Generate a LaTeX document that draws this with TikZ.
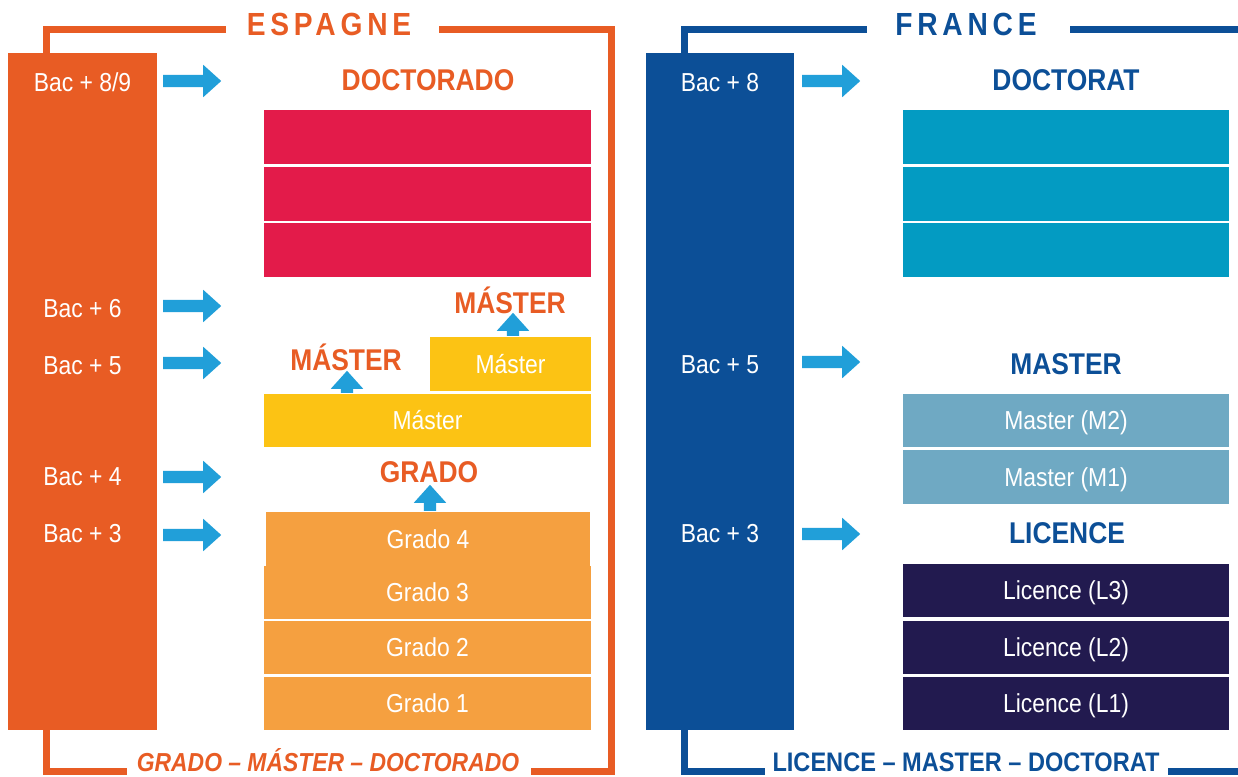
\documentclass[tikz,border=0pt]{standalone}
\usepackage{fontspec}
\setmainfont{Liberation Sans}[FakeStretch=0.88]
\usetikzlibrary{shapes.arrows}
\definecolor{esorange}{RGB}{232,92,36}
\definecolor{esred}{RGB}{227,27,74}
\definecolor{esyellow}{RGB}{252,195,20}
\definecolor{esgrado}{RGB}{245,160,64}
\definecolor{arrowblue}{RGB}{33,159,217}
\definecolor{frblue}{RGB}{12,79,151}
\definecolor{frteal}{RGB}{3,155,194}
\definecolor{frmaster}{RGB}{111,169,195}
\definecolor{frnavy}{RGB}{34,26,79}
\begin{document}
\begin{tikzpicture}[x=1pt,y=-1pt,
  col/.style={rectangle,inner sep=0pt,minimum width=149pt,minimum height=677pt},
  band/.style={rectangle,inner sep=0pt,minimum width=327pt,minimum height=53.5pt,text=white,
    font=\fontsize{26}{26}\selectfont,text height=18.6pt,text depth=0pt},
  bac/.style={anchor=base,text=white,font=\fontsize{26}{26}\selectfont},
  titre/.style={anchor=base,font=\fontsize{30}{30}\selectfont\bfseries},
  pays/.style={anchor=base,font=\fontsize{32}{32}\selectfont\bfseries\addfontfeature{LetterSpace=15}},
  bas/.style={anchor=base,inner sep=0pt,text depth=0pt,font=\fontsize{26.8}{26.8}\selectfont\bfseries},
  basit/.style={anchor=base,inner sep=0pt,text depth=0pt,font=\fontsize{26}{26}\selectfont\bfseries\itshape},
  harrow/.style={single arrow,fill=arrowblue,inner xsep=0pt,inner ysep=6pt,
    single arrow head extend=10pt,single arrow tip angle=84,minimum height=58pt,anchor=tail},
  varrow/.style={harrow,inner xsep=6pt,inner ysep=0pt,shape border rotate=90},
  esframe/.style={draw=esorange,line width=7pt},
  frframe/.style={draw=frblue,line width=7pt}]
\fill[white] (0,0) rectangle (1238,776);
\useasboundingbox (0,0) rectangle (1238,776);

% Espagne
\draw[esframe] (46,53) |- (226,29.5);
\draw[esframe] (439,29.5) -| (611,771) -- (531,771);
\draw[esframe] (46,730) |- (127,771);
\node[pays,text=esorange] (espagne) at (329,36) {ESPAGNE};
\node[basit,text=esorange] (esbas) at (328,771) {GRADO – MÁSTER – DOCTORADO};
\node[col,fill=esorange] (escol) at (82.5,391.5) {};
\node[bac] (es89) at (82.5,91) {Bac + 8/9};
\node[bac] (es6) at (82.5,317) {Bac + 6};
\node[bac] (es5) at (82.5,374) {Bac + 5};
\node[bac] (es4) at (82.5,485) {Bac + 4};
\node[bac] (es3) at (82.5,542) {Bac + 3};
\node[harrow] (esa89) at (163,81) {};
\node[harrow] (esa6) at (163,306) {};
\node[harrow] (esa5) at (163,363) {};
\node[harrow] (esa4) at (163,477) {};
\node[harrow] (esa3) at (163,535) {};
\node[titre,text=esorange] (doctorado) at (428,90) {DOCTORADO};
\node[band,fill=esred] (doc3) at (427.5,137) {};
\node[band,fill=esred] (doc2) at (427.5,194) {};
\node[band,fill=esred] (doc1) at (427.5,250) {};
\node[titre,text=esorange] (master2) at (510,313) {MÁSTER};
\node[varrow,minimum height=23pt] (upm2) at (513,336) {};
\node[band,fill=esyellow,minimum width=161pt] (mas2) at (510.5,364) {Máster};
\node[titre,text=esorange] (master1) at (346,370) {MÁSTER};
\node[varrow,minimum height=22pt] (upm1) at (347,393) {};
\node[band,fill=esyellow] (mas1) at (427.5,420.5) {Máster};
\node[titre,text=esorange] (grado) at (429,482) {GRADO};
\node[varrow,minimum height=26pt] (upg) at (430,511) {};
\node[band,fill=esgrado,minimum width=324pt] (gr4) at (428,539) {Grado 4};
\node[band,fill=esgrado] (gr3) at (427.5,592.5) {Grado 3};
\node[band,fill=esgrado] (gr2) at (427.5,647.5) {Grado 2};
\node[band,fill=esgrado] (gr1) at (427.5,703.5) {Grado 1};

% France
\draw[frframe] (684,53) |- (867,29.5);
\draw[frframe] (1070,29.5) -- (1238,29.5);
\draw[frframe] (684,730) |- (765,771);
\draw[frframe] (1168,771) -- (1238,771);
\node[pays,text=frblue] (france) at (966,36) {FRANCE};
\node[bas,text=frblue] (frbas) at (966,771) {LICENCE – MASTER – DOCTORAT};
\node[col,fill=frblue,minimum width=148pt] (frcol) at (720,391.5) {};
\node[bac] (fr8) at (720,91) {Bac + 8};
\node[bac] (fr5) at (720,373) {Bac + 5};
\node[bac] (fr3) at (720,542) {Bac + 3};
\node[harrow] (fra8) at (802,81) {};
\node[harrow] (fra5) at (802,362) {};
\node[harrow] (fra3) at (802,534) {};
\node[titre,text=frblue] (doctorat) at (1066,90) {DOCTORAT};
\node[band,fill=frteal,minimum width=326pt] (fd3) at (1066,137) {};
\node[band,fill=frteal,minimum width=326pt] (fd2) at (1066,194) {};
\node[band,fill=frteal,minimum width=326pt] (fd1) at (1066,250) {};
\node[titre,text=frblue] (master) at (1066,374) {MASTER};
\node[band,fill=frmaster,minimum width=326pt] (m2) at (1066,420.5) {Master (M2)};
\node[band,fill=frmaster,minimum width=326pt] (m1) at (1066,477) {Master (M1)};
\node[titre,text=frblue] (licence) at (1067,543) {LICENCE};
\node[band,fill=frnavy,minimum width=326pt] (l3) at (1066,590.5) {Licence (L3)};
\node[band,fill=frnavy,minimum width=326pt] (l2) at (1066,647.5) {Licence (L2)};
\node[band,fill=frnavy,minimum width=326pt] (l1) at (1066,703.5) {Licence (L1)};
\end{tikzpicture}
\end{document}
